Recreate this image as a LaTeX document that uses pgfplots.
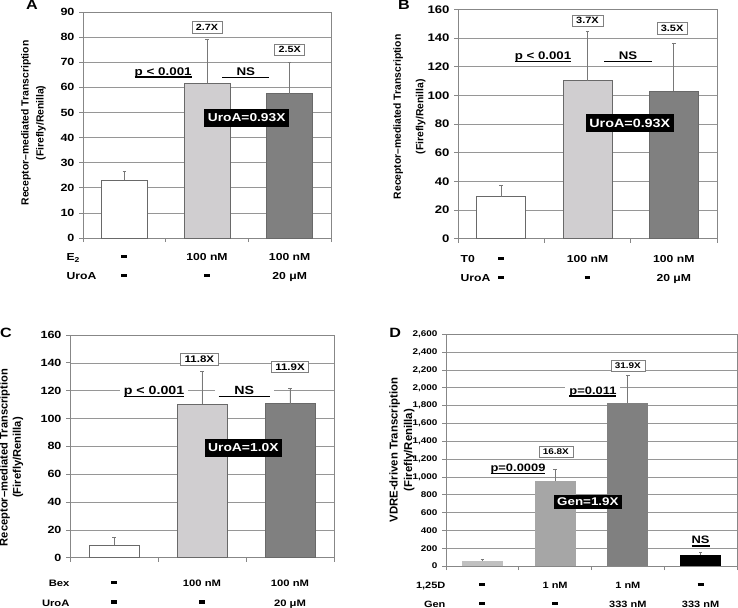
\documentclass[border=0pt]{standalone}
\usepackage{fontspec}
\setmainfont{Liberation Sans}[FakeStretch=1.2]
\newfontfamily\ylf{Liberation Sans}
\usepackage{pgfplots}
\pgfplotsset{compat=1.18}

\definecolor{gridc}{RGB}{150,150,150}
\definecolor{framec}{RGB}{135,135,135}
\definecolor{edgec}{RGB}{105,105,105}
\definecolor{errc}{RGB}{120,120,120}
\definecolor{barlight}{RGB}{208,206,208}
\definecolor{bardark}{RGB}{128,128,128}
\definecolor{dA}{RGB}{192,192,192}
\definecolor{dB}{RGB}{166,166,166}
\definecolor{dC}{RGB}{128,128,128}

% underline with a thicker rule; \wul gives a rule wider than the text
\newcommand\ul[1]{\setbox0\hbox{#1}\rlap{\copy0}\rule[-2.7bp]{\wd0}{1.3bp}}
\newcommand\wul[2]{\setbox0\hbox to #1{\hss#2\hss}\rlap{\copy0}\rule[-2.7bp]{\wd0}{1.2bp}}
\newcommand\dsh{\rule[2.4bp]{5.8bp}{3.2bp}}

\pgfplotsset{
  panel/.style={
    scale only axis, clip=false, anchor=south west,
    xmin=0.5, ymin=0,
    xticklabels={}, tick align=outside, major tick length=4bp,
    tick pos=left,
    ymajorgrids, grid style={draw=gridc, line width=0.6pt},
    axis line style={draw=framec, line width=0.7pt},
    tick style={draw=framec, line width=0.7pt},
    /pgf/number format/assume math mode=true,
    yticklabel style={font={\fontsize{#1}{12}\selectfont\bfseries}, xshift=-1bp},
  },
  bars/.style={ybar, bar shift=0pt,
    error bars/y dir=plus, error bars/y explicit,
    error bars/error bar style={draw=errc, line width=0.8pt},
    error bars/error mark options={rotate=90, mark size=1.7bp, draw=errc, line width=0.8pt}},
}
\tikzset{
  tag/.style={draw=gray, fill=white, line width=0.5pt, inner xsep=4bp, inner ysep=2.6bp,
    font={\fontsize{#1}{10}\selectfont\bfseries}},
  pv/.style={fill=white, inner xsep=4bp, inner ysep=1.5bp, anchor=base,
    font={\fontsize{#1}{13}\selectfont\bfseries}},
  blk/.style={fill=black, text=white, inner xsep=3.5bp, inner ysep=5bp,
    font={\fontsize{#1}{14}\selectfont\bfseries}},
  rowl/.style={anchor=base, font={\fontsize{#1}{12}\selectfont\bfseries}},
  plet/.style={font={\fontsize{13.5}{15}\selectfont\bfseries}},
  ylab/.style={rotate=90, align=center},
}

\begin{document}
\begin{tikzpicture}
\useasboundingbox (0,0) rectangle (738bp,-608bp);

% ---------------- A ----------------
\begin{axis}[panel=10.5, at={(83bp,-238bp)}, width=248bp, height=226bp,
  xmax=3.5, xtick={0.5,1.5,2.5,3.5}, ymax=90, ytick={0,10,...,90}, bar width=46bp]
\addplot[bars, fill=white, draw=edgec, line width=0.8pt] coordinates {(1,23) +- (0,3.5)};
\addplot[bars, fill=barlight, draw=edgec, line width=0.8pt] coordinates {(2,61.6) +- (0,17.5)};
\addplot[bars, fill=bardark, draw=edgec, line width=0.8pt] coordinates {(3,57.5) +- (0,12.5)};
\node[tag=9] at (axis cs:2,84) {2.7X};
\node[tag=9] at (axis cs:3,75) {2.5X};
\node[pv=11.2] at (axis cs:1.47,64.9) {\ul{p < 0.001}};
\node[pv=11.2] at (axis cs:2.47,64.9) {\wul{47bp}{NS}};
\node[blk=11.5] at (axis cs:2.48,47.8) {UroA=0.93X};
\node[rowl=10.2, anchor=base west] at (axis cs:0.258,-9) {E\textsubscript{2}};
\node[rowl=10.2] at (axis cs:1,-9) {\dsh};
\node[rowl=10.2] at (axis cs:2,-9) {100 nM};
\node[rowl=10.2] at (axis cs:3,-9) {100 nM};
\node[rowl=10.2, anchor=base west] at (axis cs:0.258,-16.4) {UroA};
\node[rowl=10.2] at (axis cs:1,-16.4) {\dsh};
\node[rowl=10.2] at (axis cs:2,-16.4) {\dsh};
\node[rowl=10.2] at (axis cs:3,-16.4) {20 μM};
\node[plet] at (axis cs:-0.117,92.8) {A};
\node[ylab, font={\ylf\fontsize{10.4}{15}\selectfont\bfseries}] at (axis cs:-0.099,45.8)
  {Receptor–mediated Transcription\\(Firefly/Renilla)};
\end{axis}

% ---------------- B ----------------
\begin{axis}[panel=11, at={(458bp,-238.7bp)}, width=259bp, height=229.4bp,
  xmax=3.5, xtick={0.5,1.5,2.5,3.5}, ymax=160, ytick={0,20,...,160}, bar width=49bp]
\addplot[bars, fill=white, draw=edgec, line width=0.8pt] coordinates {(1,29.3) +- (0,8.2)};
\addplot[bars, fill=barlight, draw=edgec, line width=0.8pt] coordinates {(2,110.2) +- (0,34.2)};
\addplot[bars, fill=bardark, draw=edgec, line width=0.8pt] coordinates {(3,102.8) +- (0,33.5)};
\node[tag=9.2] at (axis cs:2,152) {3.7X};
\node[tag=9.2] at (axis cs:2.98,147) {3.5X};
\node[pv=11.1] at (axis cs:1.485,125.1) {\ul{p < 0.001}};
\node[pv=11.1] at (axis cs:2.47,125.1) {\wul{48bp}{NS}};
\node[blk=12] at (axis cs:2.49,80.6) {UroA=0.93X};
\node[rowl=10.2, anchor=base west] at (axis cs:0.49,-16.7) {T0};
\node[rowl=10.2] at (axis cs:1,-16.7) {\dsh};
\node[rowl=10.2] at (axis cs:2,-16.7) {100 nM};
\node[rowl=10.2] at (axis cs:3,-16.7) {100 nM};
\node[rowl=10.2, anchor=base west] at (axis cs:0.49,-30) {UroA};
\node[rowl=10.2] at (axis cs:1,-30) {\dsh};
\node[rowl=10.2] at (axis cs:2,-30) {\dsh};
\node[rowl=10.2] at (axis cs:3,-30) {20 μM};
\node[plet] at (axis cs:-0.125,163) {B};
\node[ylab, font={\ylf\fontsize{10.4}{22.5}\selectfont\bfseries}] at (axis cs:-0.062,85)
  {Receptor–mediated Transcription\\(Firefly/Renilla)};
\end{axis}

% ---------------- C ----------------
\begin{axis}[panel=10.5, at={(70bp,-557.7bp)}, width=264bp, height=222.7bp,
  xmax=3.5, xtick={0.5,1.5,2.5,3.5}, ymax=160, ytick={0,20,...,160}, bar width=50bp]
\addplot[bars, fill=white, draw=edgec, line width=0.8pt] coordinates {(1,9.1) +- (0,5.5)};
\addplot[bars, fill=barlight, draw=edgec, line width=0.8pt] coordinates {(2,110.2) +- (0,23.4)};
\addplot[bars, fill=bardark, draw=edgec, line width=0.8pt] coordinates {(3,110.6) +- (0,10.8)};
\node[tag=9.6] at (axis cs:1.97,142.5) {11.8X};
\node[tag=9.6] at (axis cs:3,137.2) {11.9X};
\node[pv=11.9] at (axis cs:1.455,117.4) {\ul{p < 0.001}};
\node[pv=11.9] at (axis cs:2.48,117.4) {\wul{51bp}{NS}};
\node[blk=11.6] at (axis cs:2.47,79) {UroA=1.0X};
\node[rowl=9.4, anchor=base east] at (axis cs:0.534,-20.8) {Bex};
\node[rowl=9.4] at (axis cs:1,-20.8) {\dsh};
\node[rowl=9.4] at (axis cs:2,-20.8) {100 nM};
\node[rowl=9.4] at (axis cs:3,-20.8) {100 nM};
\node[rowl=9.4, anchor=base east] at (axis cs:0.534,-34.7) {UroA};
\node[rowl=9.4] at (axis cs:1,-34.7) {\dsh};
\node[rowl=9.4] at (axis cs:2,-34.7) {\dsh};
\node[rowl=9.4] at (axis cs:3,-34.7) {20 μM};
\node[plet] at (axis cs:-0.227,161.4) {C};
\node[ylab, font={\ylf\fontsize{11.2}{13.3}\selectfont\bfseries}] at (axis cs:-0.165,72)
  {Receptor–mediated Transcription\\(Firefly/Renilla)};
\end{axis}

% ---------------- D ----------------
\begin{axis}[panel=8.3, at={(446bp,-566bp)}, width=291bp, height=231.7bp,
  xmax=4.5, xtick={0.5,1.5,2.5,3.5,4.5}, ymax=2600, ytick={0,200,...,2600}, bar width=41bp,
  /pgf/number format/1000 sep={,}]
\addplot[bars, fill=dA, draw=none] coordinates {(1,56) +- (0,19)};
\addplot[bars, fill=dB, draw=none] coordinates {(2,957) +- (0,128)};
\addplot[bars, fill=dC, draw=none] coordinates {(3,1826) +- (0,310)};
\addplot[bars, fill=black, draw=none] coordinates {(4,123) +- (0,34)};
\node[tag=8.3] at (axis cs:3,2248) {31.9X};
\node[tag=8.3] at (axis cs:2.01,1283) {16.8X};
\node[pv=10.8] at (axis cs:2.52,1930) {\ul{p=0.011}};
\node[pv=10.8] at (axis cs:1.49,1058) {\ul{p=0.0009}};
\node[blk=11.2, inner ysep=3bp] at (axis cs:2.45,722) {Gen=1.9X};
\node[pv=10.8] at (axis cs:4,247) {\ul{NS}};
\node[rowl=9.2, anchor=base east] at (axis cs:0.54,-250) {1,25D};
\node[rowl=9.2] at (axis cs:1,-250) {\dsh};
\node[rowl=9.2] at (axis cs:2,-250) {1 nM};
\node[rowl=9.2] at (axis cs:3,-250) {1 nM};
\node[rowl=9.2] at (axis cs:4,-250) {\dsh};
\node[rowl=9.2, anchor=base east] at (axis cs:0.54,-464) {Gen};
\node[rowl=9.2] at (axis cs:1,-464) {\dsh};
\node[rowl=9.2] at (axis cs:2,-464) {\dsh};
\node[rowl=9.2] at (axis cs:3,-464) {333 nM};
\node[rowl=9.2] at (axis cs:4,-464) {333 nM};
\node[plet] at (axis cs:-0.2,2615) {D};
\node[ylab, font={\ylf\fontsize{11.4}{14.5}\selectfont\bfseries}] at (axis cs:-0.105,1300)
  {VDRE-driven Transcription\\(Firefly/Renilla)};
\end{axis}
\end{tikzpicture}
\end{document}
